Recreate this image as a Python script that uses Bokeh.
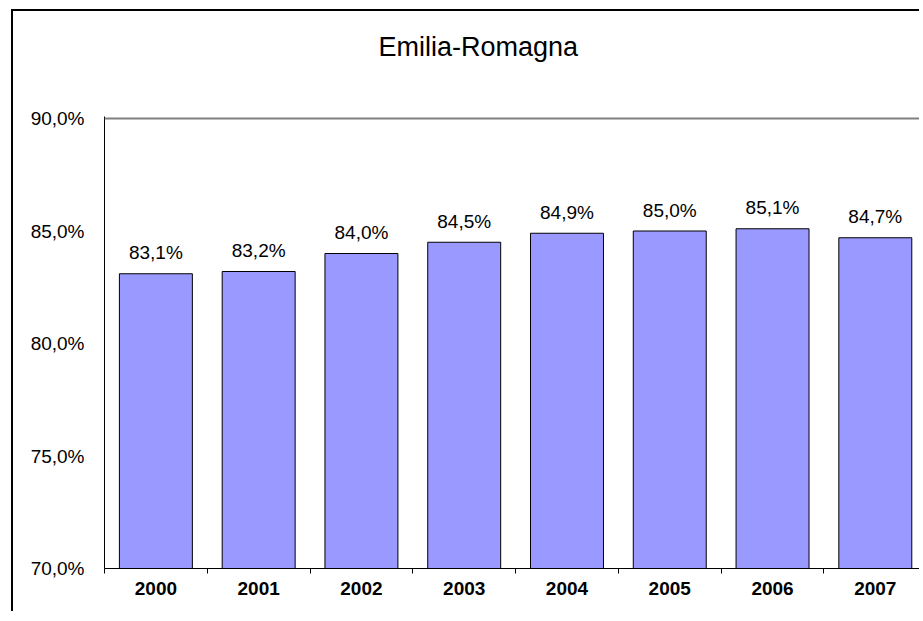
from bokeh.plotting import figure
from bokeh.models import Range1d, FixedTicker, LinearAxis, Span
from bokeh.core.properties import value
from bokeh.embed import file_html
from bokeh.resources import INLINE

years = ["2000", "2001", "2002", "2003", "2004", "2005", "2006", "2007"]
shares = [83.1, 83.2, 84.0, 84.5, 84.9, 85.0, 85.1, 84.7]
y_ticks = [70, 75, 80, 85, 90]
title_text = "Emilia-Romagna"

FONT = "Liberation Sans"

xs = [i + 0.5 for i in range(len(years))]
labels = [f"{v:.1f}%".replace(".", ",") for v in shares]

W, H = 919, 611
p = figure(width=W, height=H, output_backend="svg", toolbar_location=None,
           x_range=Range1d(0, 7.93),
           y_range=Range1d(y_ticks[0], y_ticks[-1] + 0.089),
           min_border_left=104, min_border_top=116, min_border_bottom=43,
           min_border_right=0, title=title_text)
# outer chart border (left and top edges), drawn behind the transparent canvas
p.styles = {"box-shadow": "inset 11px 9px 0 0 white, inset 13px 11px 0 0 black"}
p.background_fill_color = "white"
p.border_fill_color = None
p.outline_line_color = None
p.grid.visible = False

p.title.text_font = FONT
p.title.text_font_size = "27px"
p.title.text_font_style = "normal"
p.title.text_color = "black"
p.title.align = "left"
p.title.offset = 274
p.title.standoff = 10

# top edge of the plot area
p.add_layout(Span(location=y_ticks[-1], dimension="width",
                  line_color="#808080", line_width=2))

p.vbar(x=xs, width=0.71, bottom=y_ticks[0], top=shares,
       fill_color="#9999FF", line_color="black", line_width=1)
p.text(x=xs, y=shares, text=labels, text_align="center",
       text_baseline="alphabetic", y_offset=-21,
       text_font=value(FONT), text_font_size="19px", text_color="black")

xa = p.xaxis[0]
xa.ticker = FixedTicker(ticks=xs, minor_ticks=list(range(len(years) + 1)))
xa.major_label_overrides = {x: y for x, y in zip(xs, years)}
xa.major_label_text_font = FONT
xa.major_label_text_font_size = "19px"
xa.major_label_text_font_style = "bold"
xa.major_label_text_color = "black"
xa.major_label_standoff = 8
xa.major_tick_out = 0
xa.major_tick_in = 0
xa.minor_tick_out = 5
xa.minor_tick_in = 0
xa.minor_tick_line_color = "black"
xa.axis_line_color = "black"

ya = p.yaxis[0]
ya.ticker = FixedTicker(ticks=y_ticks, minor_ticks=[])
ya.major_label_overrides = {t: f"{t:.1f}%".replace(".", ",") for t in y_ticks}
ya.major_label_text_font = FONT
ya.major_label_text_font_size = "19px"
ya.major_label_text_color = "black"
ya.major_label_standoff = 20
ya.major_tick_out = 0
ya.major_tick_in = 0
ya.minor_tick_out = 0
ya.minor_tick_in = 0
ya.axis_line_color = "black"

# invisible spacer between the plot area and the title (one white tick)
spacer = LinearAxis(ticker=FixedTicker(ticks=[xs[0]], minor_ticks=[]),
                    major_tick_out=50, major_tick_in=0,
                    minor_tick_out=0, minor_tick_in=0,
                    major_tick_line_color="white", major_tick_line_width=1,
                    major_label_text_font_size="0px", major_label_standoff=0,
                    major_label_overrides={xs[0]: ""},
                    axis_line_color=None)
p.add_layout(spacer, "above")

open("out.html", "w").write(file_html(p, INLINE))
